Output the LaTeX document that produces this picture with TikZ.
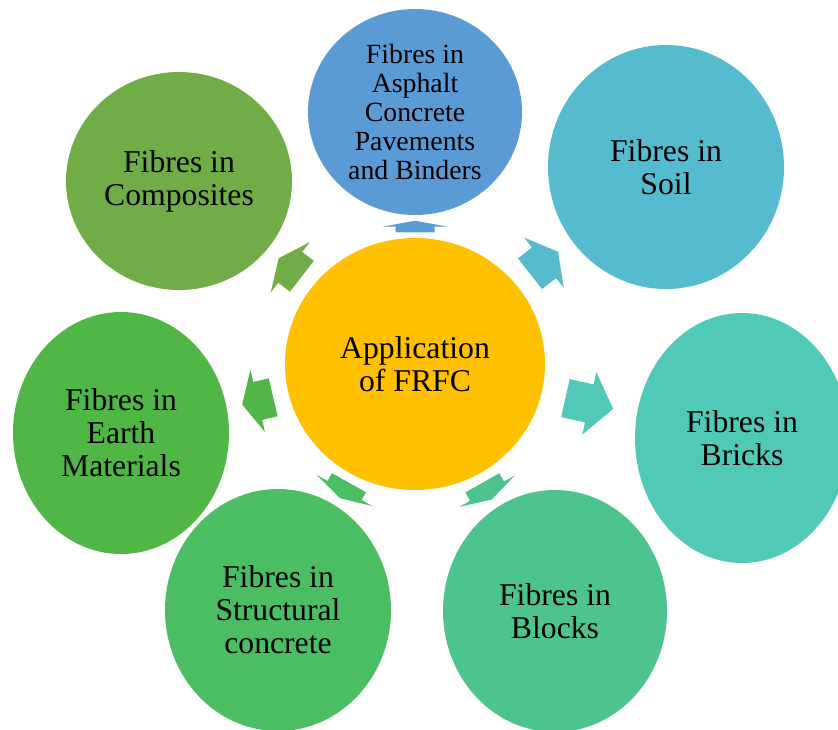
\documentclass[tikz,border=0pt]{standalone}
\usepackage{fontspec}
\setmainfont{Liberation Serif}
\usetikzlibrary{shapes.geometric,calc}

\definecolor{hubyellow}{HTML}{FFC000}
\definecolor{asphaltblue}{HTML}{5B9BD5}
\definecolor{soilblue}{HTML}{56BBCE}
\definecolor{brickteal}{HTML}{51C9B7}
\definecolor{blockgreen}{HTML}{4DC48E}
\definecolor{structgreen}{HTML}{4BBE63}
\definecolor{earthgreen}{HTML}{50B747}
\definecolor{compgreen}{HTML}{70AD47}

\tikzset{
  fibre/.style={ellipse, inner sep=0pt, outer sep=0pt, align=center,
    font=\fontsize{15.85}{16.5}\selectfont},
}

% block arrow from one node to the next, in the middle of the gap
\newcommand{\blockarrow}[3]{%
  \path (#1) -- coordinate[pos=0.25] (ba) coordinate[pos=0.5] (bh)
    coordinate[pos=0.75] (bt) (#2);
  \fill[#3] ($(ba)!9.75pt!90:(bt)$) -- ($(bh)!9.75pt!90:(bt)$)
    -- ($(bh)!16pt!90:(bt)$) -- (bt) -- ($(bh)!16pt!-90:(bt)$)
    -- ($(bh)!9.75pt!-90:(bt)$) -- ($(ba)!9.75pt!-90:(bt)$) -- cycle;
}

\begin{document}
\begin{tikzpicture}[x=0.5pt,y=-0.5pt]
  \useasboundingbox (0,0) rectangle (838,729);
  \clip (0,0) rectangle (838,729);

  \node[fibre, fill=hubyellow, minimum width=130pt, minimum height=126pt] (hub) at (415,364) {Application\\of FRFC};

  \node[fibre, fill=asphaltblue, minimum width=107pt, minimum height=103pt,
    font=\fontsize{13.9}{14.5}\selectfont] (asphalt) at (415,112)
    {Fibres in\\Asphalt\\Concrete\\Pavements\\and Binders};
  \node[fibre, fill=soilblue, minimum width=118pt, minimum height=122pt] (soil) at (666,167) {Fibres in\\Soil};
  \node[fibre, fill=brickteal, minimum width=107pt, minimum height=125pt] (bricks) at (742,438) {Fibres in\\Bricks};
  \node[fibre, fill=blockgreen, minimum width=112pt, minimum height=121pt] (blocks) at (555,611) {Fibres in\\Blocks};
  \node[fibre, fill=structgreen, minimum width=113pt, minimum height=121pt] (structural) at (278,610) {Fibres in\\Structural\\concrete};
  \node[fibre, fill=earthgreen, minimum width=108pt, minimum height=121pt] (earth) at (121,433) {Fibres in\\Earth\\Materials};
  \node[fibre, fill=compgreen, minimum width=113pt, minimum height=109pt] (composites) at (179,181) {Fibres in\\Composites};

  \blockarrow{hub}{asphalt}{asphaltblue}
  \blockarrow{hub}{soil}{soilblue}
  \blockarrow{hub}{bricks}{brickteal}
  \blockarrow{hub}{blocks}{blockgreen}
  \blockarrow{hub}{structural}{structgreen}
  \blockarrow{hub}{earth}{earthgreen}
  \blockarrow{hub}{composites}{compgreen}
\end{tikzpicture}
\end{document}
